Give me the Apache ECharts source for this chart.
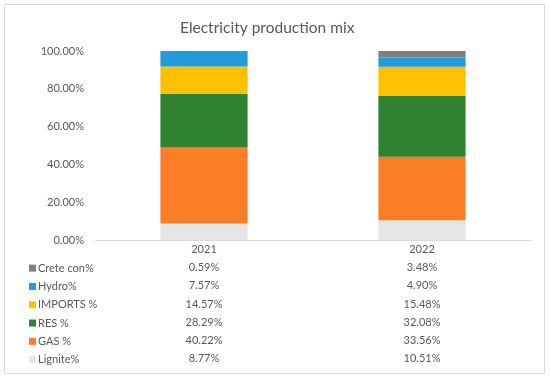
<!DOCTYPE html>
<html><head><meta charset="utf-8">
<script src="https://cdn.jsdelivr.net/npm/echarts@6/dist/echarts.min.js"></script>
<style>html,body{margin:0;padding:0;background:#fff}#c{width:550px;height:379px}</style>
</head><body><div id="c"></div>
<script>
const categories = ['2021', '2022'];
const lignite = [8.77, 10.51];
const gas = [40.22, 33.56];
const res = [28.29, 32.08];
const imports = [14.57, 15.48];
const hydro = [7.57, 4.90];
const crete = [0.59, 3.48];
const yTicks = [0, 20, 40, 60, 80, 100];

const seriesDefs = [
  {name: 'Lignite%', data: lignite, color: '#E7E6E6'},
  {name: 'GAS %', data: gas, color: '#FA7E28'},
  {name: 'RES %', data: res, color: '#2F8230'},
  {name: 'IMPORTS %', data: imports, color: '#FFC000'},
  {name: 'Hydro%', data: hydro, color: '#209CDA'},
  {name: 'Crete con%', data: crete, color: '#7F7F7F'}
];
const tableOrder = seriesDefs.slice().reverse();
const font = 'Lato, "Open Sans", sans-serif';
const txt = '#595959';
const LH = 18.3;

const chart = echarts.init(document.getElementById('c'));
chart.setOption({
  animation: false,
  title: {text: 'Electricity production mix', left: 175, top: 15,
    textStyle: {fontFamily: font, fontSize: 15.5, fontWeight: 'normal', color: txt}},
  graphic: [{type: 'rect', shape: {x: 4.5, y: 4.5, width: 540, height: 369},
    style: {fill: 'none', stroke: '#D9D9D9', lineWidth: 1}, silent: true}],
  legend: {orient: 'vertical', left: 24, top: 254, itemWidth: 7, itemHeight: 7, itemGap: 0,
    icon: 'rect', data: tableOrder.map(s => s.name),
    textStyle: {fontFamily: font, fontSize: 11, color: txt, lineHeight: LH, padding: [0,0,0,-3]}},
  grid: {left: 95, right: 19, top: 51, bottom: 139, containLabel: false},
  xAxis: {type: 'category', data: categories,
    axisLine: {lineStyle: {color: '#D9D9D9'}}, axisTick: {show: false},
    axisLabel: {margin: 0, fontFamily: font, fontSize: 11, color: txt, lineHeight: LH,
      verticalAlign: 'top',
      formatter: (v, i) => [v].concat(tableOrder.map(s => s.data[i].toFixed(2) + '%')).join('\n')}},
  yAxis: {type: 'value', min: 0, max: 100, interval: 20,
    axisLine: {show: false}, axisTick: {show: false}, splitLine: {show: false},
    axisLabel: {margin: 11, fontFamily: font, fontSize: 11, color: txt,
      formatter: v => yTicks.includes(v) ? v.toFixed(2) + '%' : ''}},
  series: seriesDefs.map(s => ({name: s.name, type: 'bar', stack: 'all', data: s.data,
    barWidth: '40%', itemStyle: {color: s.color}}))
});
</script></body></html>
